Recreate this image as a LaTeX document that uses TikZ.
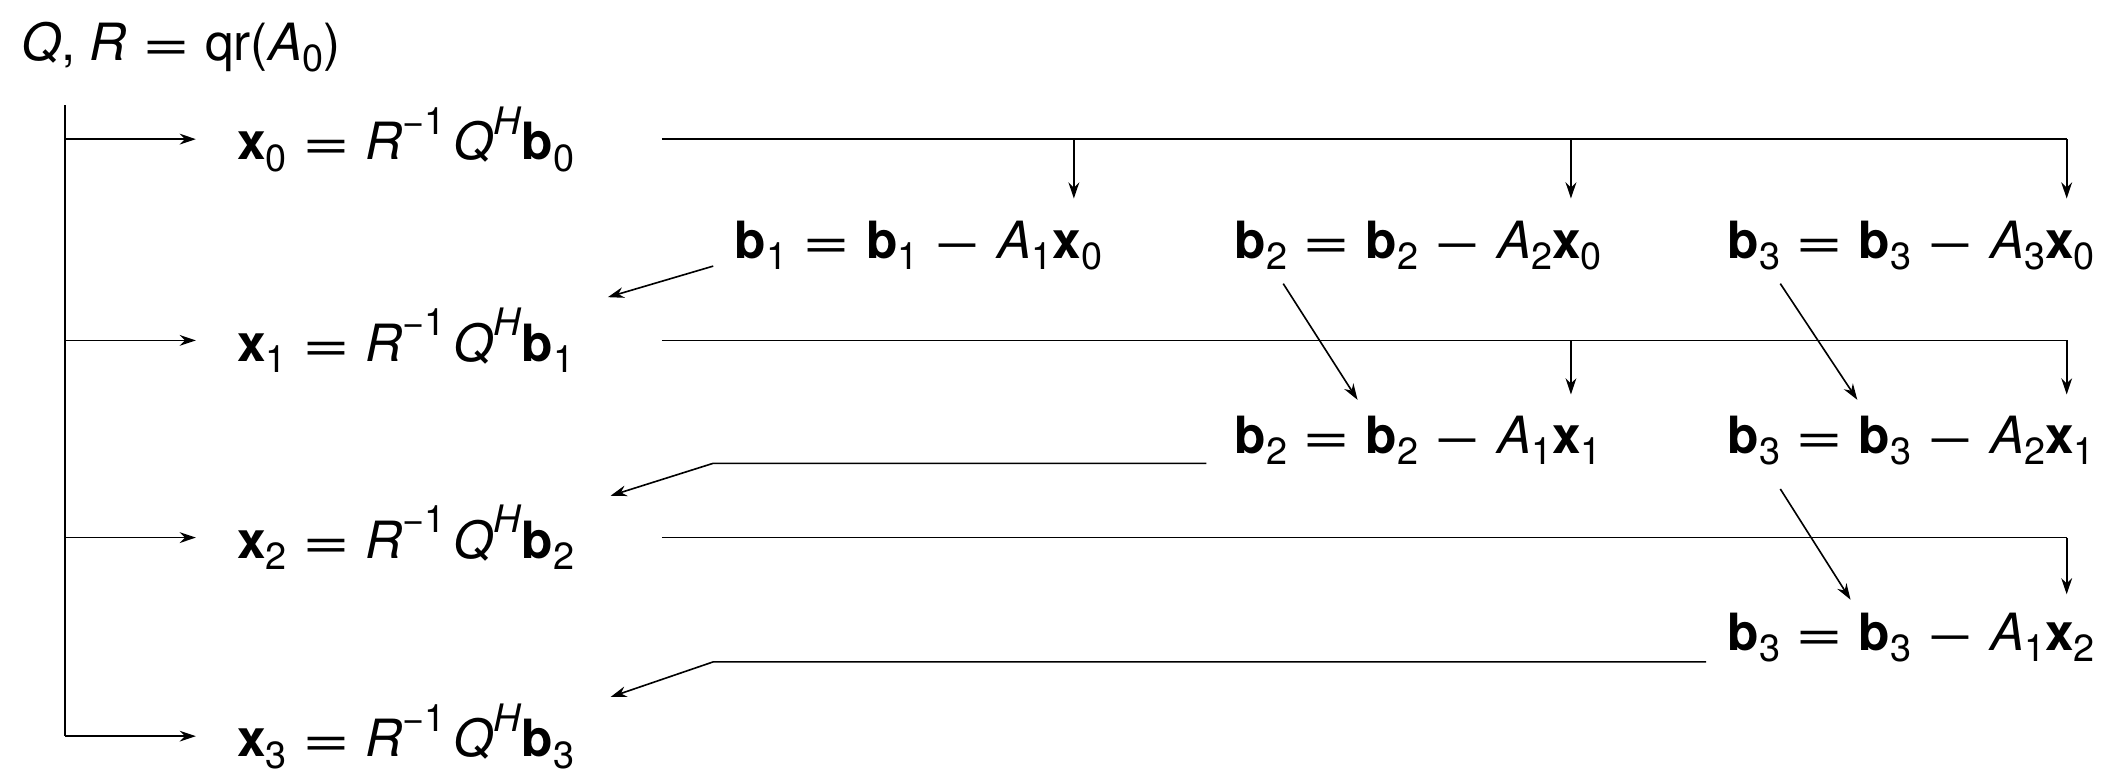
\documentclass[tikz,border=0pt]{standalone}
\usepackage{fontspec}
\usepackage{graphicx}
\setmainfont{TeX Gyre Heros}
\usetikzlibrary{arrows.meta}
\newcommand{\bv}[1]{\textbf{#1}}
\newcommand{\sub}[1]{\raisebox{-0.22em}{\fontsize{14}{14}\selectfont #1}}
\newcommand{\sups}[1]{\raisebox{0.5em}{\fontsize{14}{14}\selectfont #1}}
\newcommand{\op}[1]{\hspace{0.3em}\scalebox{1.6}[1]{#1}\hspace{0.3em}}
\newcommand{\xsol}[1]{\bv{x}\sub{#1}\op{=}\textit{R}\sups{−1}\hspace{0.15em}\textit{Q}\sups{\textit{H}}\bv{b}\sub{#1}}
\newcommand{\bupd}[3]{\bv{b}\sub{#1}\op{=}\bv{b}\sub{#1}\op{−}\textit{A}\sub{#2}\bv{x}\sub{#3}}
\tikzset{every picture/.style={line width=0.6pt}}
\tikzset{eq/.style={font=\fontsize{19}{22}\selectfont, inner sep=0pt},
  arr/.style={-{Stealth[length=6pt,width=4pt]}}}

\begin{document}
\begin{tikzpicture}[x=0.5pt,y=0.5pt,yscale=-1,xscale=1]
\useasboundingbox (0,0) rectangle (1568,573);

% Text Node
\node[eq,anchor=west] (qr) at (15,35) {\textit{Q}, \textit{R}\op{=}qr(\textit{A}\sub{0})};
% Text Node
\node[eq,anchor=west] (x0) at (175,103) {\xsol{0}};
\node[eq,anchor=west] (x1) at (175,252) {\xsol{1}};
\node[eq,anchor=west] (x2) at (175,398) {\xsol{2}};
\node[eq,anchor=west] (x3) at (175,545) {\xsol{3}};
% Text Node
\node[eq] (b11) at (680,182) {\bupd{1}{1}{0}};
\node[eq] (b21) at (1050,182) {\bupd{2}{2}{0}};
\node[eq] (b31) at (1415,182) {\bupd{3}{3}{0}};
\node[eq] (b22) at (1050,326) {\bupd{2}{1}{1}};
\node[eq] (b32) at (1415,326) {\bupd{3}{2}{1}};
\node[eq] (b33) at (1415,472) {\bupd{3}{1}{2}};

% Straight Lines
\coordinate (top) at (48,78);
\draw (top) -- (48,545);
\foreach \n/\y in {x0/103,x1/252,x2/398,x3/545}
  \draw[arr] (48,\y) -- (145,\y);

% Horizontal feeds
\draw (490,103) -- (1530,103);
\foreach \xx in {795,1163,1530}
  \draw[arr] (\xx,103) -- (\xx,147);
\draw (490,252) -- (1530,252);
\foreach \xx in {1163,1530}
  \draw[arr] (\xx,252) -- (\xx,292);
\draw (490,398) -- (1530,398);
\draw[arr] (1530,398) -- (1530,440);

% Back arrows
\draw[arr] (528,197) -- (450,220);
\draw[arr] (893,343) -- (528,343) -- (452,367);
\draw[arr] (1263,490) -- (528,490) -- (452,516);
\draw[arr] (950,210) -- (1005,296);
\draw[arr] (1318,210) -- (1375,296);
\draw[arr] (1318,362) -- (1370,444);

\end{tikzpicture}
\end{document}
